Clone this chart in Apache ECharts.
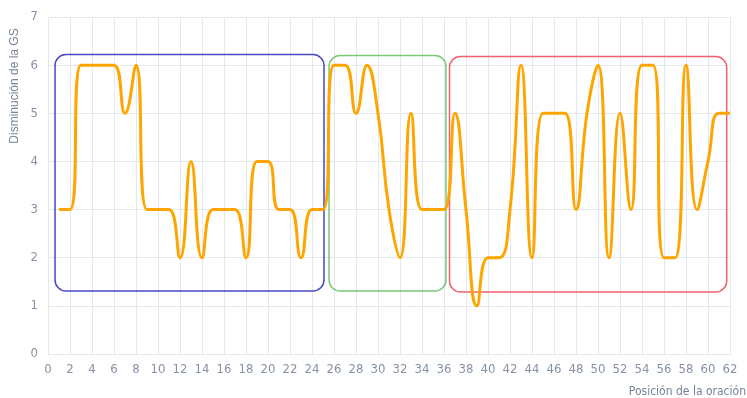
<!DOCTYPE html>
<html>
<head>
<meta charset="utf-8">
<script src="https://cdn.jsdelivr.net/npm/echarts@6/dist/echarts.min.js"></script>
<style>html,body{margin:0;padding:0;background:#fff;}#c{width:747px;height:398px;}</style>
</head>
<body>
<div id="c"></div>
<script>
// Data
const positions = [];
for (let i = 1; i <= 62; i++) positions.push(i);
const values = [
  3, 3, 6, 6, 6, 6, 5, 6, 3, 3,
  3, 2, 4, 2, 3, 3, 3, 2, 4, 4,
  3, 3, 2, 3, 3, 6, 6, 5, 6, 5,
  3, 2, 5, 3, 3, 3, 5, 3, 1, 2,
  2, 3, 6, 2, 5, 5, 5, 3, 5, 6,
  2, 5, 3, 6, 6, 2, 2, 6, 3, 4,
  5, 5
];
const xTicks = {min: 0, max: 62, interval: 2};
const yTicks = {min: 0, max: 7, interval: 1};
const yName = 'Disminución de la GS';
const xName = 'Posición de la oración';
// Annotation boxes in data coordinates
const boxNames = ['blue', 'green', 'red'];
const boxX0 = [0.64, 25.55, 36.5];
const boxX1 = [25.09, 36.18, 61.7];
const boxYTop = [6.22, 6.2, 6.18];
const boxYBot = [1.31, 1.31, 1.29];
const boxColors = ['#4848c4', '#78c878', '#f0606e'];

const chart = echarts.init(document.getElementById('c'), null, {renderer: 'canvas'});
const gridColor = '#e3e7ee';
const labelColor = '#8592a6';
const font = "'Liberation Sans Narrow', 'DejaVu Sans Condensed', 'Roboto Condensed', sans-serif";
chart.setOption({
  animation: false,
  grid: {left: 48, right: 17, top: 17, bottom: 44},
  xAxis: {
    type: 'value', min: xTicks.min, max: xTicks.max, interval: xTicks.interval,
    axisLine: {show: true, lineStyle: {color: gridColor}},
    axisTick: {show: false},
    axisLabel: {color: labelColor, fontSize: 13, margin: 9, fontFamily: font},
    splitLine: {show: true, lineStyle: {color: gridColor}}
  },
  yAxis: {
    type: 'value', min: yTicks.min, max: yTicks.max, interval: yTicks.interval,
    axisLine: {show: false},
    axisTick: {show: false},
    axisLabel: {color: labelColor, fontSize: 13, margin: 10, fontFamily: font},
    splitLine: {show: true, lineStyle: {color: gridColor}}
  },
  series: [{
    type: 'line',
    data: positions.map((p, i) => [p, values[i]]),
    smooth: 0.5,
    showSymbol: false,
    lineStyle: {color: '#FFA500', width: 3},
    z: 3
  }]
});

const graphics = [];
for (let i = 0; i < boxNames.length; i++) {
  const p0 = chart.convertToPixel({gridIndex: 0}, [boxX0[i], boxYTop[i]]);
  const p1 = chart.convertToPixel({gridIndex: 0}, [boxX1[i], boxYBot[i]]);
  graphics.push({
    type: 'rect',
    shape: {x: p0[0], y: p0[1], width: p1[0] - p0[0], height: p1[1] - p0[1], r: 11},
    style: {fill: 'none', stroke: boxColors[i], lineWidth: 1.5},
    z: 2
  });
}
graphics.push({
  type: 'text', x: 15, y: 86, rotation: Math.PI / 2,
  style: {text: yName, fill: '#76849a', fontSize: 12, align: 'center', verticalAlign: 'middle', fontFamily: 'sans-serif'}
});
graphics.push({
  type: 'text', x: 746, y: 392,
  style: {text: xName, fill: '#76849a', fontSize: 12, align: 'right', verticalAlign: 'middle', fontFamily: font}
});
chart.setOption({graphic: graphics});
</script>
</body>
</html>
